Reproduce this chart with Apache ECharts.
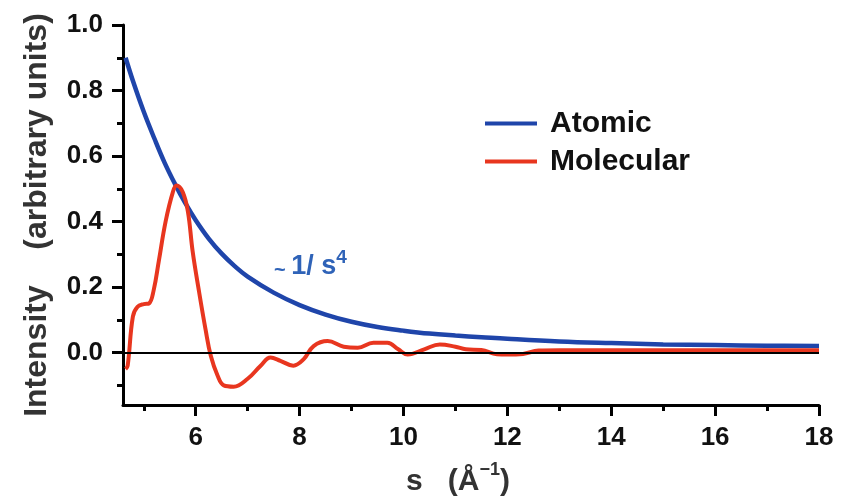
<!DOCTYPE html>
<html>
<head>
    <meta charset="utf-8" />
    <title>Atomic vs Molecular</title>
    <script src="https://cdn.jsdelivr.net/npm/echarts@6/dist/echarts.min.js"></script>
    <style>
        html, body { margin: 0; padding: 0; background: #fff; }
        #chart { width: 844px; height: 502px; }
    </style>
</head>
<body>
    <div id="chart"></div>
    <script type="text/javascript">
        // values, s in 1/Angstrom
        var atomicS = [4.65, 4.8, 5.0, 5.2, 5.4, 5.6, 5.8, 6.0, 6.25, 6.5, 6.75, 7.0, 7.5, 8.0, 8.5, 9.0, 9.5, 10, 10.5, 11, 11.5, 12, 13, 14, 15, 16, 17, 18];
        var atomicI = [0.90, 0.825, 0.735, 0.655, 0.58, 0.515, 0.456, 0.404, 0.348, 0.302, 0.264, 0.232, 0.183, 0.145, 0.116, 0.094, 0.078, 0.067, 0.058, 0.052, 0.047, 0.042, 0.034, 0.029, 0.025, 0.023, 0.021, 0.02];

        var molecularS = [4.65, 4.69, 4.79, 4.88, 5.0, 5.10, 5.19, 5.29, 5.42, 5.56, 5.63, 5.75, 5.85, 5.94, 6.06, 6.19, 6.29, 6.42, 6.54, 6.73, 7.0, 7.25, 7.44, 7.63, 7.88, 8.08, 8.27, 8.54, 8.85, 9.12, 9.42, 9.69, 9.9, 10.08, 10.4, 10.7, 11.0, 11.2, 11.5, 11.8, 12.0, 12.3, 12.6, 13, 14, 15, 16, 17, 18];
        var molecularI = [-0.05, -0.04, 0.11, 0.14, 0.148, 0.15, 0.19, 0.28, 0.40, 0.49, 0.51, 0.49, 0.43, 0.31, 0.19, 0.07, -0.01, -0.07, -0.10, -0.104, -0.08, -0.04, -0.015, -0.025, -0.04, -0.02, 0.02, 0.035, 0.018, 0.015, 0.03, 0.03, 0.01, -0.006, 0.01, 0.025, 0.018, 0.01, 0.008, -0.005, -0.006, -0.004, 0.006, 0.007, 0.007, 0.007, 0.007, 0.007, 0.007];

        var yMajorTicks = [0, 0.2, 0.4, 0.6, 0.8, 1.0];
        var yMinorTicks = [-0.1, 0.1, 0.3, 0.5, 0.7, 0.9];
        var xMajorTicks = [6, 8, 10, 12, 14, 16, 18];
        var xMinorTicks = [5, 7, 9, 11, 13, 15, 17];

        var FONT = 'Liberation Sans';

        function pairs(xs, ys) {
            var out = [];
            for (var i = 0; i < xs.length; i++) {
                out.push([xs[i], ys[i]]);
            }
            return out;
        }

        var chart = echarts.init(document.getElementById('chart'));

        var axisLineStyle = { color: '#000', width: 3 };

        chart.setOption({
            animation: false,
            grid: { left: 123, right: 25, top: 25, bottom: 97 },
            legend: {
                orient: 'vertical',
                left: 480,
                top: 102,
                itemWidth: 52,
                itemHeight: 4,
                itemGap: 5,
                icon: 'rect',
                textStyle: { fontFamily: FONT, fontSize: 30, fontWeight: 'bold', color: '#111', padding: [0, 0, 0, 8], lineHeight: 33 },
                data: ['Atomic', 'Molecular']
            },
            graphic: [{
                type: 'text',
                left: 274,
                top: 248,
                style: {
                    text: '{t|~ }{a|1/ s}{sup|4}',
                    rich: {
                        t: { fontFamily: FONT, fontSize: 20, fontWeight: 'bold', fill: '#2f63b8', lineHeight: 32, verticalAlign: 'bottom' },
                        a: { fontFamily: FONT, fontSize: 27, fontWeight: 'bold', fill: '#2f63b8', lineHeight: 32, verticalAlign: 'bottom' },
                        sup: { fontFamily: FONT, fontSize: 19, fontWeight: 'bold', fill: '#2f63b8', lineHeight: 32, verticalAlign: 'top' }
                    }
                }
            }],
            xAxis: [{
                type: 'value',
                min: 4.6,
                max: 18,
                name: '{a|s   (Å}{sup|−1}{a|)}',
                nameLocation: 'middle',
                nameGap: 56,
                nameTextStyle: {
                    padding: [0, 26, 0, 0],
                    rich: {
                        a: { fontFamily: FONT, fontSize: 30, fontWeight: 'bold', color: '#333', lineHeight: 36, verticalAlign: 'bottom' },
                        sup: { fontFamily: FONT, fontSize: 18, fontWeight: 'bold', color: '#333', lineHeight: 36, verticalAlign: 'top' }
                    }
                },
                axisLine: { onZero: false, lineStyle: axisLineStyle },
                axisTick: { show: true, length: 11, lineStyle: { width: 3, color: '#000' }, customValues: xMajorTicks },
                axisLabel: { customValues: xMajorTicks, margin: 20, fontFamily: FONT, fontSize: 26, fontWeight: 'bold', color: '#111' },
                splitLine: { show: false }
            }, {
                type: 'value',
                position: 'bottom',
                min: 4.6,
                max: 18,
                axisLine: { show: false, onZero: false },
                axisTick: { show: true, length: 6, lineStyle: { width: 3, color: '#000' }, customValues: xMinorTicks },
                axisLabel: { show: false },
                splitLine: { show: false }
            }],
            yAxis: [{
                type: 'value',
                min: -0.16,
                max: 1.0,
                name: 'Intensity    (arbitrary units)',
                nameLocation: 'middle',
                nameRotate: 90,
                nameGap: 70,
                nameTextStyle: { fontFamily: FONT, fontSize: 32, fontWeight: 'bold', color: '#333' },
                axisLine: { show: true, onZero: false, lineStyle: axisLineStyle },
                axisTick: { show: true, length: 11, lineStyle: { width: 3, color: '#000' }, customValues: yMajorTicks },
                axisLabel: {
                    customValues: yMajorTicks,
                    margin: 20,
                    fontFamily: FONT, fontSize: 26, fontWeight: 'bold', color: '#111',
                    formatter: function (v) { return v.toFixed(1); }
                },
                splitLine: { show: false }
            }, {
                type: 'value',
                position: 'left',
                min: -0.16,
                max: 1.0,
                axisLine: { show: false, onZero: false },
                axisTick: { show: true, length: 6, lineStyle: { width: 3, color: '#000' }, customValues: yMinorTicks },
                axisLabel: { show: false },
                splitLine: { show: false }
            }],
            series: [{
                name: 'Atomic',
                type: 'line',
                data: pairs(atomicS, atomicI),
                smooth: 0.4,
                showSymbol: false,
                lineStyle: { color: '#1f45aa', width: 4.5 },
                itemStyle: { color: '#1f45aa' },
                z: 3
            }, {
                name: 'Molecular',
                type: 'line',
                data: pairs(molecularS, molecularI),
                smooth: 0.4,
                showSymbol: false,
                lineStyle: { color: '#e8361f', width: 4 },
                itemStyle: { color: '#e8361f' },
                z: 4,
                markLine: {
                    silent: true,
                    symbol: 'none',
                    label: { show: false },
                    lineStyle: { color: '#000', width: 2, type: 'solid' },
                    data: [{ yAxis: 0 }]
                }
            }]
        });
    </script>
</body>
</html>
